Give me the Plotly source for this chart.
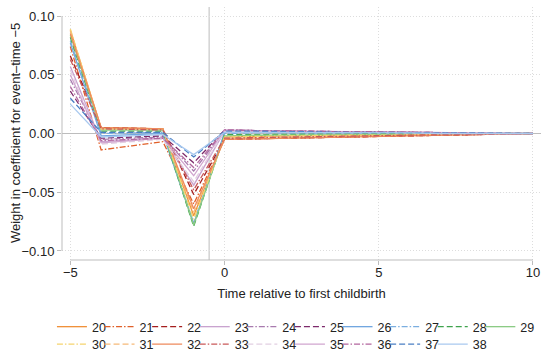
import plotly.graph_objects as go

event_time = [-5, -4, -3, -2, -1, 0, 1, 2, 3, 4, 5, 6, 7, 8, 9, 10]
x_ticks = [-5, 0, 5, 10]
y_ticks = [-0.10, -0.05, 0.00, 0.05, 0.10]
labels = ["20", "21", "22", "23", "24", "25", "26", "27", "28", "29",
          "30", "31", "32", "33", "34", "35", "36", "37", "38"]

w20 = [0.088, 0.005, 0.0045, 0.004, -0.070, -0.003, -0.0025, -0.002, -0.002, -0.0015, -0.0015, -0.001, -0.001, -0.0005, 0.0, 0.0]
w21 = [0.074, -0.014, -0.0105, -0.007, -0.060, -0.005, -0.0045, -0.004, -0.0035, -0.003, -0.0025, -0.002, -0.0015, -0.001, -0.0005, 0.0]
w22 = [0.066, 0.005, 0.0045, 0.004, -0.052, -0.005, -0.0045, -0.004, -0.0035, -0.003, -0.0025, -0.002, -0.0015, -0.001, -0.0005, 0.0]
w23 = [0.057, -0.007, -0.0055, -0.004, -0.044, 0.002, 0.002, 0.0015, 0.0015, 0.001, 0.001, 0.0005, 0.0005, 0.0005, 0.0, 0.0]
w24 = [0.046, -0.005, -0.004, -0.003, -0.032, 0.003, 0.0025, 0.002, 0.002, 0.0015, 0.0015, 0.001, 0.001, 0.0005, 0.0, 0.0]
w25 = [0.036, -0.004, -0.003, -0.002, -0.025, 0.003, 0.0025, 0.002, 0.002, 0.0015, 0.0015, 0.001, 0.001, 0.0005, 0.0, 0.0]
w26 = [0.077, -0.002, -0.001, 0.000, -0.077, 0.001, 0.001, 0.001, 0.0005, 0.0005, 0.0005, 0.0005, 0.0, 0.0, 0.0, 0.0]
w27 = [0.079, 0.000, 0.0005, 0.001, -0.076, 0.000, 0.0005, 0.0005, 0.0005, 0.0005, 0.0, 0.0, 0.0, 0.0, 0.0, 0.0]
w28 = [0.082, 0.002, 0.002, 0.002, -0.079, -0.001, -0.001, -0.0005, -0.0005, -0.0005, 0.0, 0.0, 0.0, 0.0, 0.0, 0.0]
w29 = [0.084, 0.003, 0.003, 0.003, -0.078, -0.002, -0.0015, -0.0015, -0.001, -0.001, -0.001, -0.0005, -0.0005, 0.0, 0.0, 0.0]
w30 = [0.089, 0.004, 0.004, 0.004, -0.073, -0.003, -0.0025, -0.002, -0.002, -0.0015, -0.0015, -0.001, -0.001, -0.0005, 0.0, 0.0]
w31 = [0.087, 0.004, 0.004, 0.004, -0.067, -0.004, -0.0035, -0.003, -0.003, -0.0025, -0.002, -0.0015, -0.001, -0.001, -0.0005, 0.0]
w32 = [0.085, 0.005, 0.0045, 0.004, -0.064, -0.005, -0.0045, -0.004, -0.0035, -0.003, -0.0025, -0.002, -0.0015, -0.001, -0.0005, 0.0]
w33 = [0.063, 0.004, 0.0035, 0.003, -0.048, -0.004, -0.0035, -0.003, -0.003, -0.0025, -0.002, -0.0015, -0.001, -0.001, -0.0005, 0.0]
w34 = [0.054, -0.009, -0.007, -0.005, -0.041, 0.002, 0.002, 0.0015, 0.0015, 0.001, 0.001, 0.0005, 0.0005, 0.0005, 0.0, 0.0]
w35 = [0.050, -0.008, -0.006, -0.004, -0.036, 0.003, 0.0025, 0.002, 0.002, 0.0015, 0.0015, 0.001, 0.001, 0.0005, 0.0, 0.0]
w36 = [0.040, -0.006, -0.005, -0.004, -0.029, 0.003, 0.0025, 0.002, 0.002, 0.0015, 0.0015, 0.001, 0.001, 0.0005, 0.0, 0.0]
w37 = [0.030, 0.001, 0.001, 0.001, -0.020, 0.002, 0.002, 0.0015, 0.0015, 0.001, 0.001, 0.0005, 0.0005, 0.0005, 0.0, 0.0]
w38 = [0.025, -0.003, -0.002, -0.001, -0.018, 0.001, 0.001, 0.001, 0.0005, 0.0005, 0.0005, 0.0005, 0.0, 0.0, 0.0, 0.0]

series = [w20, w21, w22, w23, w24, w25, w26, w27, w28, w29,
          w30, w31, w32, w33, w34, w35, w36, w37, w38]

colors = ["#F0913A", "#E0602A", "#A51E1E", "#C9A3CF", "#A87AAE", "#7D2A6B",
          "#72A7E0", "#7BAEE0", "#3FA34D", "#8CCB85", "#F5D46E", "#F6B978",
          "#EE8A5C", "#C9595A", "#E2CFE2", "#D1A6CF", "#B3669E", "#4A7FC4",
          "#A9C9EF"]
dash_cycle = ["solid", "6px,2px,1.5px,2px", "6px,3px"]

FONT = "Liberation Sans, Arial, Helvetica, sans-serif"
AXIS_GRAY = "#bdbdbd"

fig = go.Figure()
for i, (lab, vals) in enumerate(zip(labels, series)):
    fig.add_trace(go.Scatter(
        x=event_time, y=vals, mode="lines", name=lab,
        line=dict(color=colors[i], width=1.3, dash=dash_cycle[i % 3]),
        legend="legend" if i < 10 else "legend2",
    ))

# invisible spacer entries so the last legend labels are not clipped
for lg in ["legend", "legend2"]:
    fig.add_trace(go.Scatter(x=[None], y=[None], mode="lines", name=" ",
                             line=dict(width=0, color="rgba(0,0,0,0)"),
                             legend=lg, hoverinfo="skip"))

# reference lines
fig.add_shape(type="line", xref="x", yref="paper", x0=-0.5, x1=-0.5, y0=0, y1=1,
              line=dict(color=AXIS_GRAY, width=1), layer="below")
# axis lines spanning the tick range (Stata style)
fig.add_shape(type="line", xref="x", yref="paper", x0=x_ticks[0], x1=x_ticks[-1], y0=0, y1=0,
              line=dict(color=AXIS_GRAY, width=1))
fig.add_shape(type="line", xref="paper", yref="y", x0=0, x1=0, y0=y_ticks[0], y1=y_ticks[-1],
              line=dict(color=AXIS_GRAY, width=1))

# y-axis title (placed as a rotated annotation to sit close to the tick labels)
fig.add_annotation(text="Weight in coefficient for event–time −5", textangle=-90,
                   xref="paper", yref="paper", x=-0.097, y=0.5,
                   xanchor="center", yanchor="middle", showarrow=False,
                   font=dict(size=13, color="#222222"))

legend_common = dict(orientation="h", xanchor="left", yanchor="middle",
                     entrywidth=2.6, entrywidthmode="pixels", font=dict(size=12.5),
                     bgcolor="rgba(0,0,0,0)", tracegroupgap=0)

fig.update_layout(
    width=543, height=352,
    margin=dict(l=62, r=2, t=7, b=92, autoexpand=False),
    paper_bgcolor="white", plot_bgcolor="white",
    font=dict(family=FONT, size=13, color="#222222"),
    xaxis=dict(
        range=[-5.27, 10.26], tickvals=x_ticks, ticks="outside", ticklen=4,
        tickcolor=AXIS_GRAY, showline=False, zeroline=False,
        showgrid=True, gridcolor="#dddddd", griddash="1px,2px", gridwidth=1,
        title=dict(text="Time relative to first childbirth", standoff=10,
                   font=dict(size=13)),
        tickfont=dict(size=13), ticklabelstandoff=-4,
    ),
    yaxis=dict(
        range=[-0.1077, 0.1077], tickvals=y_ticks, tickformat=".2f",
        ticks="outside", ticklen=4, tickcolor=AXIS_GRAY, showline=False,
        zeroline=True, zerolinecolor=AXIS_GRAY, zerolinewidth=1,
        showgrid=True, gridcolor="#dddddd", griddash="1px,2px", gridwidth=1,
        tickfont=dict(size=13), ticklabelstandoff=0,
    ),
    legend=dict(x=-0.021, y=-0.265, **legend_common),
    legend2=dict(x=-0.021, y=-0.334, **legend_common),
    showlegend=True,
)

fig.write_html("out.html")
